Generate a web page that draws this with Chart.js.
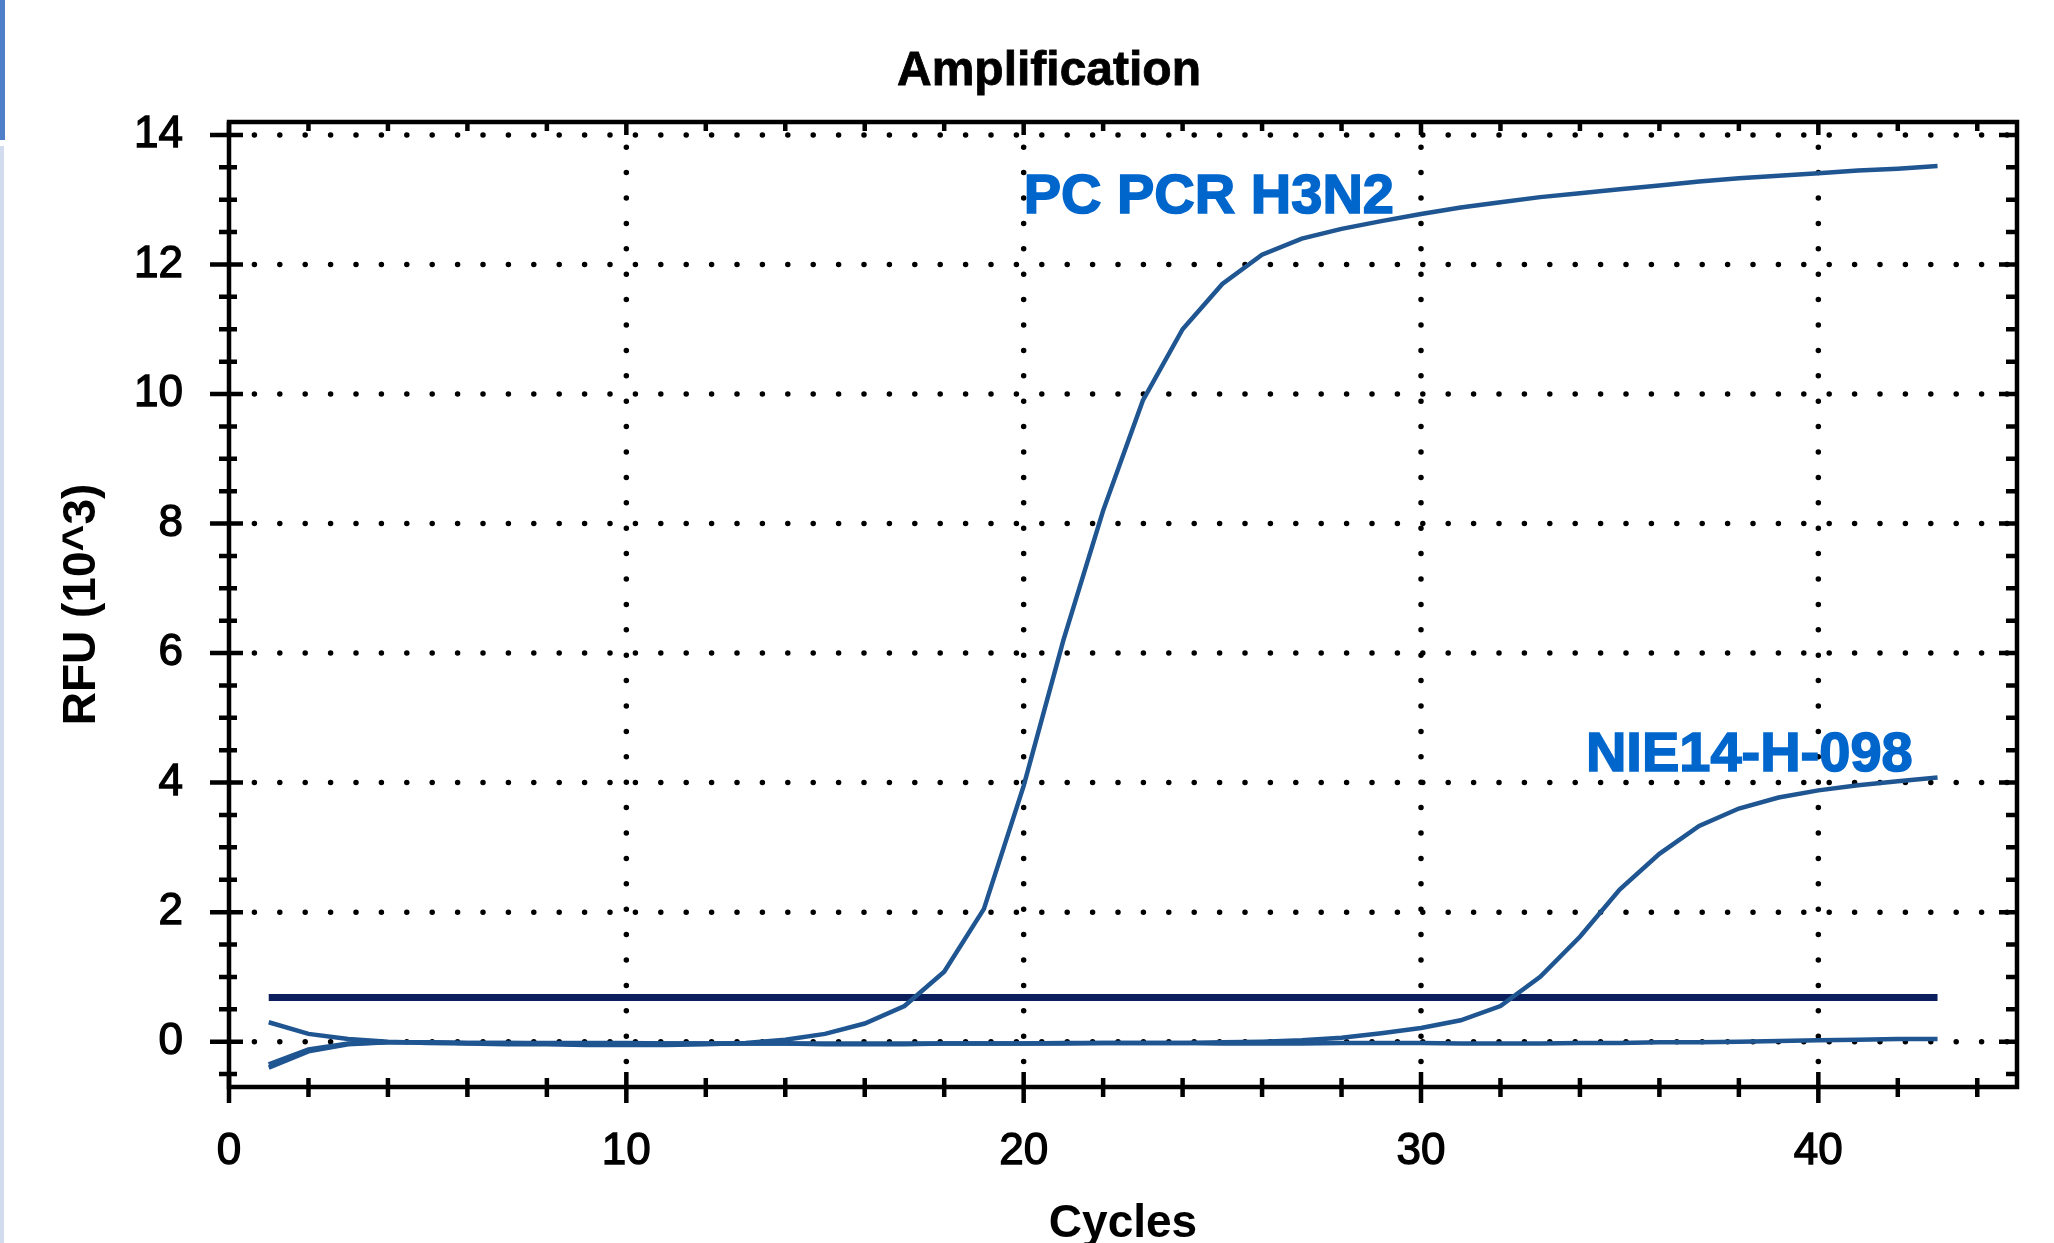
<!DOCTYPE html>
<html>
<head>
<meta charset="utf-8">
<title>Amplification</title>
<script src="https://cdn.jsdelivr.net/npm/chart.js@4.4.1/dist/chart.umd.min.js"></script>
<style>
  html, body { margin: 0; padding: 0; background: #fff; }
  #wrap { position: relative; width: 2054px; height: 1243px; }
  #stripTop { position: absolute; left: 0; top: 0; width: 5px; height: 140px; background: #4f7fc8; }
  #stripLow { position: absolute; left: 0; top: 146px; width: 4px; height: 1097px; background: #d3dcee; }
</style>
</head>
<body>
<div id="wrap">
  <canvas id="amp" width="2054" height="1243"></canvas>
  <div id="stripTop"></div>
  <div id="stripLow"></div>
</div>
<script>
// curvas de amplificación (RFU x 10^3), 1 punto por ciclo
const cycles = [1, 2, 3, 4, 5, 6, 7, 8, 9, 10, 11, 12, 13, 14, 15, 16, 17, 18, 19, 20, 21,
    22, 23, 24, 25, 26, 27, 28, 29, 30, 31, 32, 33, 34, 35, 36, 37, 38, 39, 40, 41, 42, 43];

const pcPcrH3N2 = [0.30, 0.12, 0.04, 0.00, -0.02, -0.03, -0.04, -0.04, -0.05, -0.05, -0.05,
    -0.04, -0.02, 0.03, 0.12, 0.28, 0.55, 1.08, 2.05, 3.95, 6.20, 8.20, 9.90, 11.00, 11.70,
    12.15, 12.40, 12.55, 12.67, 12.78, 12.88, 12.96, 13.04, 13.10, 13.16, 13.22, 13.28,
    13.33, 13.37, 13.41, 13.45, 13.48, 13.52];

const nie14H098 = [-0.40, -0.15, -0.04, -0.01, -0.01, -0.02, -0.02, -0.02, -0.02, -0.02,
    -0.03, -0.03, -0.03, -0.03, -0.03, -0.03, -0.03, -0.03, -0.03, -0.03, -0.02, -0.02,
    -0.02, -0.02, -0.01, 0.00, 0.02, 0.06, 0.13, 0.21, 0.33, 0.55, 1.00, 1.62, 2.35, 2.90,
    3.33, 3.60, 3.77, 3.88, 3.96, 4.02, 4.08];

const negControl = [-0.35, -0.12, -0.03, -0.01, -0.01, -0.02, -0.02, -0.03, -0.03, -0.03,
    -0.03, -0.03, -0.03, -0.03, -0.04, -0.04, -0.04, -0.03, -0.03, -0.03, -0.03, -0.02,
    -0.02, -0.02, -0.03, -0.03, -0.03, -0.02, -0.02, -0.02, -0.03, -0.03, -0.03, -0.02,
    -0.02, -0.01, -0.01, 0.00, 0.01, 0.02, 0.03, 0.04, 0.04];

const threshold = 0.68;

// ejes
const xTicks = [0, 10, 20, 30, 40];
const yTicks = [0, 2, 4, 6, 8, 10, 12, 14];
const xMinorStep = 2;
const yMinorStep = 0.5;

// etiquetas de las curvas (posición en unidades de datos)
const curveLabels = ['PC PCR H3N2', 'NIE14-H-098'];
const labelCycle = [20, 34.15];
const labelRfu = [12.8, 4.18];

const FONT = "'Liberation Sans', Arial, sans-serif";
const CURVE = '#1f5591';

function pts(vals) {
    return cycles.map((c, i) => ({ x: c, y: vals[i] }));
}

// marco, ticks y grilla punteada al estilo del software del termociclador
const framePlugin = {
    id: 'framePlugin',
    beforeDatasetsDraw(chart) {
        const { ctx, chartArea: a, scales: { x, y } } = chart;
        ctx.save();
        ctx.strokeStyle = '#000';
        ctx.lineWidth = 5.5;
        ctx.lineCap = 'round';
        ctx.setLineDash([0, 25.4]);
        xTicks.slice(1).forEach(v => {
            const px = x.getPixelForValue(v);
            ctx.beginPath(); ctx.moveTo(px, a.bottom); ctx.lineTo(px, a.top); ctx.stroke();
        });
        yTicks.forEach(v => {
            const py = y.getPixelForValue(v);
            ctx.beginPath(); ctx.moveTo(a.left, py); ctx.lineTo(a.right, py); ctx.stroke();
        });
        ctx.restore();
    },
    afterDatasetsDraw(chart) {
        const { ctx, chartArea: a, scales: { x, y } } = chart;
        ctx.save();
        ctx.strokeStyle = '#000';
        ctx.lineWidth = 4.5;
        ctx.lineCap = 'butt';
        ctx.strokeRect(a.left, a.top, a.right - a.left, a.bottom - a.top);
        // eje x: abajo cruzando, arriba hacia adentro
        for (let v = 0; v <= x.max; v += xMinorStep) {
            const px = x.getPixelForValue(v);
            const major = xTicks.includes(v);
            ctx.beginPath();
            ctx.moveTo(px, a.bottom - (major ? 15 : 9));
            ctx.lineTo(px, a.bottom + (major ? 16 : 10));
            ctx.moveTo(px, a.top);
            ctx.lineTo(px, a.top + (major ? 13 : 9));
            ctx.stroke();
        }
        // eje y: izquierda cruzando, derecha hacia adentro
        for (let v = -0.5; v <= y.max; v += yMinorStep) {
            const py = y.getPixelForValue(v);
            const major = yTicks.includes(v);
            ctx.beginPath();
            ctx.moveTo(a.left - (major ? 19 : 10), py);
            ctx.lineTo(a.left + (major ? 14 : 8), py);
            ctx.moveTo(a.right, py);
            ctx.lineTo(a.right - (major ? 18 : 11), py);
            ctx.stroke();
        }
        ctx.restore();
    },
    afterDraw(chart) {
        const { ctx, scales: { x, y } } = chart;
        ctx.save();
        // título
        ctx.fillStyle = '#000';
        ctx.strokeStyle = '#000';
        ctx.lineWidth = 0.8;
        ctx.font = 'bold 48px ' + FONT;
        ctx.textAlign = 'center';
        ctx.textBaseline = 'alphabetic';
        ctx.fillText('Amplification', 1049, 85);
        ctx.strokeText('Amplification', 1049, 85);
        // nombres de las muestras
        ctx.textAlign = 'left';
        ctx.fillStyle = '#0066cc';
        ctx.strokeStyle = '#0066cc';
        ctx.lineWidth = 1.6;
        ctx.font = 'bold 56px ' + FONT;
        curveLabels.forEach((t, i) => {
            const px = x.getPixelForValue(labelCycle[i]);
            const py = y.getPixelForValue(labelRfu[i]);
            ctx.fillText(t, px, py);
            ctx.strokeText(t, px, py);
        });
        ctx.restore();
    }
};

const lineDs = (label, vals, color, width) => ({
    label: label,
    data: pts(vals),
    borderColor: color,
    borderWidth: width,
    pointRadius: 0,
    tension: 0,
    fill: false
});

new Chart(document.getElementById('amp').getContext('2d'), {
    type: 'line',
    data: {
        datasets: [
            lineDs('Neg', negControl, CURVE, 4.5),
            lineDs('NIE14-H-098', nie14H098, CURVE, 4.5),
            lineDs('PC PCR H3N2', pcPcrH3N2, CURVE, 4.5),
            lineDs('Threshold', cycles.map(() => threshold), '#0a1f5c', 7)
        ]
    },
    options: {
        responsive: false,
        animation: false,
        devicePixelRatio: 1,
        layout: { padding: { left: 0, right: 37, top: 122, bottom: 0 } },
        plugins: {
            legend: { display: false },
            tooltip: { enabled: false },
            title: { display: false }
        },
        scales: {
            x: {
                type: 'linear',
                min: 0,
                max: 45,
                afterBuildTicks: s => { s.ticks = xTicks.map(v => ({ value: v })); },
                afterFit: s => { s.height = 156; },
                grid: { display: false, drawTicks: false, tickLength: 0 },
                border: { display: false },
                ticks: {
                    color: '#000',
                    padding: 43,
                    maxRotation: 0,
                    textStrokeColor: '#000',
                    textStrokeWidth: 1.3,
                    font: { family: FONT, size: 44, lineHeight: 1 }
                },
                title: {
                    display: true,
                    text: 'Cycles',
                    color: '#000',
                    font: { family: FONT, size: 46, weight: 'bold', lineHeight: 0.8 },
                    padding: { top: 0, bottom: 0 }
                }
            },
            y: {
                type: 'linear',
                min: -0.7,
                max: 14.2,
                afterBuildTicks: s => { s.ticks = yTicks.map(v => ({ value: v })); },
                afterFit: s => { s.width = 229; },
                grid: { display: false, drawTicks: false, tickLength: 0 },
                border: { display: false },
                ticks: {
                    color: '#000',
                    padding: 46,
                    textStrokeColor: '#000',
                    textStrokeWidth: 1.3,
                    font: { family: FONT, size: 44, lineHeight: 1 }
                },
                title: {
                    display: true,
                    text: 'RFU (10^3)',
                    color: '#000',
                    font: { family: FONT, size: 46, weight: 'bold', lineHeight: 1 },
                    padding: { top: 59, bottom: 0 }
                }
            }
        }
    },
    plugins: [framePlugin]
});
</script>
</body>
</html>
